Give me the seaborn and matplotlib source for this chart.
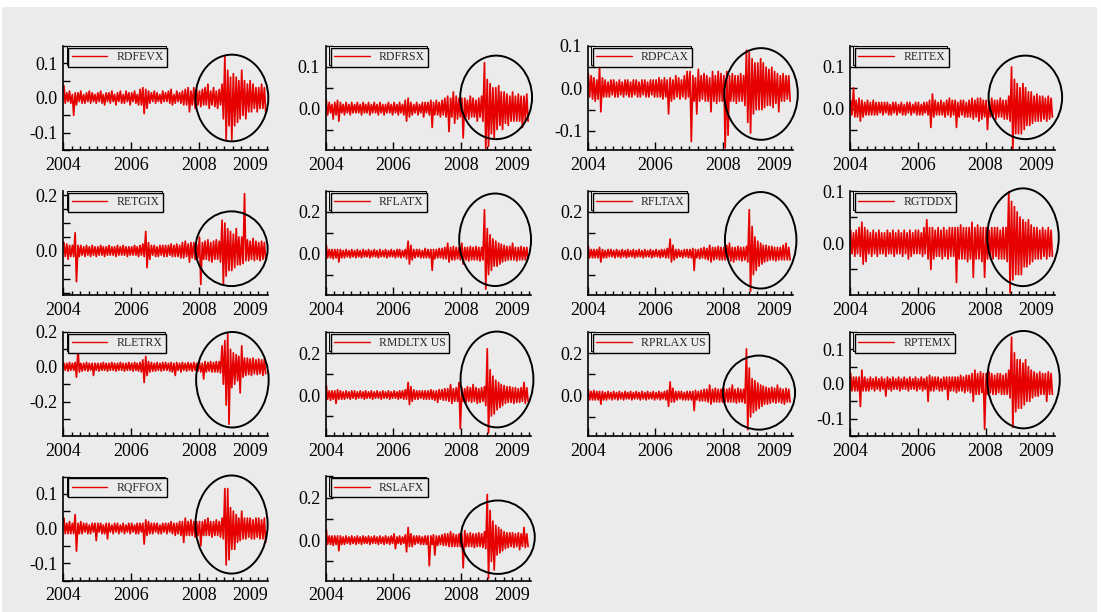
import numpy as np
import pandas as pd
import matplotlib
matplotlib.use("Agg")
import matplotlib.pyplot as plt
from matplotlib.patches import Ellipse, Rectangle
from matplotlib.ticker import MultipleLocator, FixedLocator, FuncFormatter
import seaborn as sns

# ---------------------------------------------------------------------------
# Data: half-monthly observations, Jan 2004 - Dec 2009.
# Each fund series holds alternating half-month high / low returns (percent).
# ---------------------------------------------------------------------------
dates = pd.date_range("2004-01-01", periods=144, freq="SMS")

RDFEVX = [3.5,-1.5, 1.5,-1, 2,-1.5, 1,-5, 1.5,-2, 1.5,-1, 2,-1.5, 1,-1.5, 1.5,-1, 2,-1.5, 1.5,-1, 1,-1.5,
          1.5,-1, 2,-1.5, 1,-2, 1.5,-1, 1.5,-1.5, 2,-1, 1,-2, 1.5,-1, 2,-1.5, 1,-1.5, 2,-1, 1.5,-2,
          1.5,-1, 2,-1.5, 1,-2, 2.5,-2, 3,-4.5, 2.5,-3, 2,-1.5, 1.5,-1, 2,-1.5, 1.5,-1, 1,-1.5, 2,-1,
          1.5,-1, 2,-1.5, 2.5,-2, 1,-1.5, 2,-1, 1.5,-1.5, 2,-2, 2.5,-2, 3,-4, 2,-2, 3,-3, 2.5,-2,
          2,-2.5, 2.5,-2, 3,-2, 4,-3, 2,-2, 3,-2.5, 2,-3, 2.5,-2, 4,-6, 12,-12, 8,-8, 6,-12,
          7,-8, 6,-7, 5,-6, 8,-5, 5,-6, 4,-4, 5,-4, 4,-3, 3,-4, 3,-3, 4,-3, 3,-4]

RDFRSX = [2,-1.5, 1.5,-1, 1,-2.5, 1.5,-1.5, 2,-3, 1.5,-1, 1,-1.5, 1.5,-1, 1,-1.5, 1.5,-1, 1,-1, 1.5,-1,
          1,-1.5, 1.5,-1, 1,-1, 1.5,-1.5, 1,-1, 1.5,-1, 1,-1.5, 1.5,-1, 1,-1.5, 1,-1, 1.5,-1, 1,-1.5,
          1.5,-1, 1,-1.5, 1.5,-1, 1,-1.5, 2,-3, 2.5,-2, 1.5,-1.5, 1,-1, 1.5,-1.5, 1,-1, 1.5,-2, 1.5,-1,
          1.5,-1.5, 2,-4.5, 1.5,-1.5, 2,-1.5, 1.5,-2, 2,-1.5, 2.5,-2, 3,-5.5, 2.5,-2, 4,-3.5, 3,-2.5, 2.5,-2,
          2.5,-7, 2.5,-2, 2,-2.5, 3,-2, 2.5,-2, 2,-3, 2.5,-2, 3,-3, 11,-10, 7,-9, 6,-6, 5,-7,
          5,-5, 5.5,-4, 4,-5, 4,-3.5, 3.5,-4, 3,-3, 4,-3, 3,-3, 3.5,-3, 3,-4.5, 3,-3, 3.5,-3]

RDPCAX = [3.5,-2, 3,-2.5, 2.5,-3, 2,-2.5, 5,-5.5, 2.5,-2, 2,-2, 1.5,-2, 2,-1.5, 2,-2, 1.5,-2, 2,-1.5,
          1.5,-2, 2,-1.5, 2,-2, 1.5,-2, 2,-1.5, 2,-2, 1.5,-2, 2,-1.5, 2,-2, 1.5,-2, 2,-1.5, 2,-2,
          2,-2, 2.5,-2, 2,-2.5, 2.5,-2, 2,-6, 2.5,-3, 2,-2.5, 3,-2, 2.5,-2.5, 2,-2, 3,-2.5, 4,-2,
          4,-12.5, 3,-3, 2.5,-6, 4.5,-3, 3,-2.5, 3.5,-3, 3,-3, 2.5,-5.5, 4,-3, 3,-3.5, 4,-3, 3.5,-3,
          3,-14, 4,-11, 3,-3, 3.5,-3, 3,-3.5, 3,-3, 3.5,-3, 3,-4, 9,-8, 8.5,-10.5, 7,-6, 6,-5,
          6,-5, 7,-5, 6,-4.5, 5,-4, 4.5,-4, 5,-4.5, 4,-3.5, 3.5,-5.5, 3,-3, 3.5,-3, 3,-2.5, 3,-3]

REITEX = [2,-1.5, 5,-2, 2,-2, 2.5,-3, 2,-2, 1.5,-1.5, 2,-1.5, 1.5,-1.5, 2,-1.5, 1.5,-1.5, 1.5,-1, 1.5,-1.5,
          1.5,-1, 1.5,-1.5, 1,-1.5, 1.5,-1, 1.5,-1.5, 1,-1, 1.5,-1.5, 1,-1.5, 1.5,-1, 1.5,-1.5, 1,-1, 1.5,-1.5,
          1.5,-1.5, 1,-1.5, 1.5,-1, 1.5,-1.5, 2,-4.5, 3.5,-2, 2,-1.5, 1.5,-1.5, 2,-1.5, 1.5,-2, 2,-1.5, 2.5,-2,
          2,-1.5, 2,-4.5, 1.5,-2, 2,-1.5, 2,-2, 1.5,-2, 2,-2, 2.5,-2.5, 2,-2, 2.5,-3, 2.5,-2.5, 2,-2,
          2,-5, 2,-2, 2.5,-2, 2,-2.5, 2,-2, 2.5,-2, 2,-2.5, 2,-2.5, 3,-3, 10,-10, 7,-6, 6,-6,
          5,-6, 6,-5, 5,-4, 4,-4, 4,-3.5, 3,-3, 3.5,-3, 3,-3, 3,-2.5, 2.5,-3, 3,-2.5, 2.5,-2]

RETGIX = [3,-2, 2.5,-3, 2,-2, 2,-2, 6.5,-11, 2,-2, 2,-1.5, 1.5,-2, 2,-1.5, 1.5,-2, 2,-1.5, 1.5,-2,
          1.5,-1.5, 2,-1.5, 1.5,-2, 1.5,-1.5, 2,-1.5, 1.5,-1.5, 1.5,-2, 2,-1.5, 1.5,-1.5, 2,-1.5, 1.5,-2, 1.5,-1.5,
          1.5,-1.5, 2,-1.5, 1.5,-2, 2,-1.5, 2.5,-2, 7,-6, 3,-3, 2,-1.5, 2,-2, 1.5,-2, 2,-1.5, 2,-2,
          2,-2, 2,-1.5, 2.5,-2, 2,-2, 2.5,-2, 2,-2.5, 3,-2.5, 3.5,-2, 2.5,-4, 3,-2.5, 3,-3, 2.5,-2.5,
          5,-12, 3,-3, 3.5,-3, 4,-3.5, 3,-4, 3.5,-3, 4,-3, 3.5,-4, 11,-12, 10,-9, 8,-7, 7,-7,
          6,-6, 8,-5, 5,-5, 5,-4.5, 20.5,-3.5, 4,-3.5, 3.5,-3, 4.5,-3.5, 3.5,-3, 3,-3.5, 3.5,-3, 3,-3]

RFLATX = [4,-2, 2,-2, 2,-2.5, 2,-2, 2,-4, 2,-2, 1.5,-2, 2,-1.5, 1.5,-2, 2,-1.5, 1.5,-2, 2,-1.5,
          1.5,-2, 2,-1.5, 1.5,-1.5, 2,-2, 1.5,-1.5, 2,-1.5, 1.5,-2, 2,-1.5, 1.5,-1.5, 2,-2, 1.5,-1.5, 2,-1.5,
          1.5,-2, 2,-1.5, 2,-2, 1.5,-1.5, 2,-2.5, 6,-5, 4,-3, 2,-2, 2,-1.5, 2,-2, 1.5,-2, 2.5,-2,
          2,-2, 2,-8, 2,-2.5, 2,-2, 2.5,-2, 2.5,-2.5, 3,-2.5, 5,-4, 3,-3, 3.5,-3, 3,-2.5, 3,-3,
          5,-5, 3,-3, 3,-3.5, 3.5,-3, 3,-3, 3.5,-3, 3,-3.5, 3,-3, 21,-17, 12,-10, 9,-8, 7,-6,
          6,-6, 5,-5, 4.5,-4, 4,-3.5, 3.5,-3, 3.5,-3, 5,-3, 3,-3.5, 3,-3, 3.5,-3, 3,-3, 3,-2.5]

RFLTAX = [3.5,-2, 2,-2, 2,-2, 2,-2, 3,-4, 2,-2, 1.5,-2, 2,-1.5, 2,-1.5, 1.5,-2, 2,-1.5, 1.5,-2,
          2,-1.5, 1.5,-2, 2,-1.5, 1.5,-1.5, 2,-2, 1.5,-1.5, 2,-1.5, 1.5,-2, 2,-1.5, 1.5,-1.5, 2,-2, 1.5,-1.5,
          2,-1.5, 1.5,-2, 2,-1.5, 2,-2, 2.5,-2, 7,-4, 4,-3, 2,-2, 2,-1.5, 1.5,-2, 2,-1.5, 2,-2,
          2,-2, 2.5,-8, 2,-2, 2,-2.5, 2.5,-2, 3,-2.5, 2.5,-3, 4,-4, 3,-3, 3,-2.5, 3.5,-3, 3,-3,
          3,-3, 4,-3, 5,-3.5, 3,-4, 3,-3, 3.5,-3, 3,-3.5, 3,-3, 3.5,-4, 21,-18, 13,-10, 8,-8,
          6,-6, 5,-5, 4,-4, 4,-3.5, 3.5,-3, 3.5,-3, 3,-3.5, 3,-3, 3,-3, 4,-3, 5,-3, 3,-3]

RGTDDX = [2.5,-2, 2,-2.5, 2.5,-2, 3,-2.5, 4,-4, 3,-3.5, 2.5,-2, 2,-2.5, 2.5,-2, 2,-2.5, 2.5,-2, 2,-2,
          2,-2.5, 2.5,-2, 2,-2, 2.5,-2.5, 2,-2, 2.5,-2, 2,-2.5, 2.5,-2, 2,-3, 2.5,-2.5, 2,-2, 2.5,-2,
          2.5,-2, 2,-2.5, 3,-2, 4.5,-3, 3,-5, 3,-3, 2.5,-2.5, 3,-2.5, 2.5,-3, 3,-2.5, 2.5,-3, 3,-2.5,
          3,-2.5, 3,-7.5, 3,-3, 3.5,-3, 3,-3, 3,-3.5, 3,-3, 4,-6.5, 3,-3, 3.5,-3, 3,-3.5, 3,-6.5,
          3,-3, 2.5,-3, 3,-3, 3,-2.5, 3,-3, 2.5,-3, 3,-3, 3,-3.5, 10,-9.5, 8,-7, 7,-6, 6,-6,
          5,-6, 4.5,-4.5, 4,-4.5, 4.5,-4, 3.5,-3.5, 3,-3, 3,-3, 2.5,-3, 3,-2.5, 2.5,-3, 3,-2.5, 2.5,-2.5]

RLETRX = [2,-2, 2,-2.5, 2.5,-2, 2,-2, 2.5,-6, 10,-3, 2,-2.5, 2,-2, 2.5,-2.5, 2,-2, 2,-5, 2,-2,
          2,-2.5, 2,-2, 2.5,-2, 2,-2.5, 2,-2, 2.5,-2, 2,-2.5, 2,-2, 2.5,-2, 2,-2.5, 2,-2, 2.5,-2,
          2,-2.5, 2.5,-2, 2,-2.5, 2.5,-3, 4,-9, 6,-5, 3,-3, 2.5,-2.5, 2,-2.5, 2.5,-2, 2,-2.5, 2.5,-2,
          2.5,-2, 2,-2.5, 2.5,-3, 2,-5, 2.5,-2, 2,-3, 2.5,-2, 2,-2.5, 2.5,-2, 2,-2.5, 2.5,-2, 2,-2.5,
          2.5,-3, 2,-7, 3,-3, 2.5,-2.5, 3,-3, 2.5,-3, 3,-3, 3,-3.5, 12,-10, 15,-22, 19,-33, 10,-12,
          8,-10, 7,-8, 6,-15, 12,-6, 5,-5, 5,-4.5, 4.5,-5, 5,-4, 4,-4.5, 4.5,-4, 4,-5, 4.5,-4]

RMDLTX = [4.5,-2, 2,-2.5, 2,-2, 2,-4, 2.5,-2, 2,-2, 1.5,-2, 2,-1.5, 1.5,-2, 2,-1.5, 2,-2, 1.5,-1.5,
          2,-1.5, 1.5,-2, 2,-1.5, 1.5,-1.5, 2,-2, 1.5,-1.5, 2,-1.5, 1.5,-2, 2,-1.5, 1.5,-1.5, 2,-2, 1.5,-1.5,
          2,-1.5, 1.5,-2, 2,-1.5, 2,-2, 2.5,-2, 6,-4.5, 4,-3, 2.5,-2, 2,-2, 2,-1.5, 2,-2, 2,-2,
          2,-2, 2.5,-2, 2,-2.5, 2,-3.5, 2.5,-2, 2.5,-2.5, 3,-2.5, 3,-3, 5,-4, 3,-3, 3.5,-3, 6,-16,
          3.5,-3, 3,-3.5, 4,-3, 3.5,-3.5, 5,-3, 3.5,-4, 3,-3.5, 3.5,-3, 4,-5, 22,-18, 12,-10, 9,-9,
          7,-7, 6,-6, 5,-5, 4.5,-4, 4,-3.5, 4,-3.5, 3.5,-4, 3.5,-3.5, 3,-3.5, 3.5,-3, 6,-4, 3.5,-3]

RPRLAX = [3,-2, 2,-2, 2.5,-2, 2,-2, 2,-4, 2,-2, 1.5,-2, 2,-1.5, 1.5,-2, 2,-1.5, 1.5,-2, 2,-1.5,
          1.5,-2, 2,-1.5, 1.5,-1.5, 2,-2, 1.5,-1.5, 2,-1.5, 1.5,-2, 2,-1.5, 1.5,-2, 2,-1.5, 1.5,-1.5, 2,-2,
          1.5,-1.5, 2,-2, 1.5,-1.5, 2,-2, 2.5,-5, 6.5,-3, 3.5,-3, 2,-2, 2,-1.5, 2,-2, 1.5,-2, 2,-2,
          2,-2, 2,-7, 2.5,-2, 2,-2.5, 2.5,-2.5, 3,-2.5, 3,-3, 5,-4, 3,-3, 3.5,-3, 3,-3, 3,-3,
          3.5,-3, 3,-3, 3.5,-3, 5,-3, 3,-3.5, 3.5,-3, 3,-3, 3,-3.5, 22,-16, 13,-10, 8,-8, 7,-7,
          6,-6, 5,-5, 4.5,-4, 4,-4, 3.5,-3.5, 4,-3, 3.5,-3.5, 5,-3, 3.5,-3.5, 3,-4, 3.5,-3, 3,-3]

RPTEMX = [3,-2, 2,-2, 2,-2, 2,-6.5, 4,-2, 2,-2, 1.5,-2, 2,-1.5, 1.5,-2, 2,-1.5, 1.5,-2, 2,-1.5,
          1.5,-3.5, 2,-1.5, 1.5,-2, 2,-1.5, 1.5,-1.5, 2,-2, 1.5,-1.5, 2,-1.5, 1.5,-2, 2,-1.5, 1.5,-1.5, 2,-2,
          1.5,-1.5, 2,-2, 1.5,-1.5, 2,-5, 2.5,-2, 2,-2, 2,-1.5, 2,-2, 1.5,-2, 2,-1.5, 2,-4.5, 2,-2,
          2,-2, 2,-2.5, 2,-2, 2.5,-2, 2,-2.5, 2.5,-2, 2.5,-2.5, 3,-5, 4,-3, 3,-3, 3.5,-2.5, 3,-13,
          3,-3, 3.5,-2.5, 3,-3, 2.5,-3, 3,-2.5, 3,-3, 2.5,-3, 3,-3, 4,-4, 13.5,-12.5, 9,-8, 7,-7,
          7,-7, 6,-6, 7,-5, 5,-5, 4,-4, 3.5,-3.5, 3,-3.5, 3.5,-3, 3,-3, 3,-5, 3.5,-3, 3,-3]

RQFFOX = [3,-1.5, 1.5,-1.5, 2,-1.5, 1.5,-1.5, 4,-6.5, 1.5,-1.5, 2,-1.5, 1.5,-1, 1.5,-1.5, 1,-1.5, 1.5,-1, 1.5,-3.5,
          1.5,-1, 1.5,-1.5, 1,-1.5, 1.5,-3, 1.5,-1, 1,-1.5, 1.5,-1, 1.5,-1.5, 1,-1, 1.5,-1.5, 1,-1, 1.5,-1.5,
          1.5,-1, 1,-1.5, 1.5,-1.5, 1.5,-1, 1.5,-4.5, 2.5,-2, 2,-1.5, 1.5,-1.5, 1.5,-1, 1.5,-1.5, 1,-1.5, 1.5,-1,
          1.5,-1.5, 1.5,-1, 2,-1.5, 1.5,-2, 1.5,-1.5, 2,-2, 2,-4, 3,-2, 2,-2, 2.5,-2, 2,-2.5, 2,-2,
          2,-5, 2,-2, 2.5,-2, 3,-2, 2,-2.5, 2,-2, 2.5,-2, 2,-2.5, 3,-3, 11.5,-10.5, 11.5,-9, 6,-6,
          5,-6, 4,-4, 3,-3.5, 5,-3, 3,-3, 3,-2.5, 3,-3, 2.5,-3, 3,-2.5, 3,-3, 2.5,-3, 3,-4]

RSLAFX = [5,-2, 2,-2, 2,-2.5, 2,-2, 2,-5, 2,-2, 1.5,-2, 2,-1.5, 1.5,-2, 2,-1.5, 1.5,-2, 2,-1.5,
          1.5,-2, 2,-1.5, 1.5,-1.5, 2,-2, 1.5,-1.5, 2,-1.5, 1.5,-2, 2,-1.5, 1.5,-2, 2,-1.5, 1.5,-2, 2,-1.5,
          3,-4, 1.5,-1.5, 2,-2, 1.5,-1.5, 2.5,-5.5, 6,-3, 3,-3, 2,-2, 2,-1.5, 2,-2, 1.5,-2, 2,-2,
          2,-12, 2,-2, 2.5,-7, 2,-2.5, 2,-2, 2.5,-2.5, 3,-2.5, 3,-3, 4,-3, 3,-3, 2.5,-3, 3,-3,
          3,-13, 4.5,-3, 3,-3, 3.5,-3, 3,-3.5, 3,-3, 3.5,-3, 3,-3.5, 4,-4, 21.5,-18, 14,-10, 9,-14,
          7,-7, 6,-6, 5,-5, 4,-4, 3.5,-3.5, 3.5,-3, 3.5,-3.5, 3,-3, 3.5,-4.5, 3,-3, 6,-3.5, 3,-3]

fund_names = ["RDFEVX", "RDFRSX", "RDPCAX", "REITEX",
              "RETGIX", "RFLATX", "RFLTAX", "RGTDDX",
              "RLETRX", "RMDLTX US", "RPRLAX US", "RPTEMX",
              "RQFFOX", "RSLAFX"]
fund_series = [RDFEVX, RDFRSX, RDPCAX, REITEX,
               RETGIX, RFLATX, RFLTAX, RGTDDX,
               RLETRX, RMDLTX, RPRLAX, RPTEMX,
               RQFFOX, RSLAFX]

# value range shown on each panel
y_low = [-0.15, -0.099, -0.145, -0.099, -0.158, -0.198, -0.198, -0.099,
         -0.398, -0.195, -0.19, -0.15, -0.15, -0.19]
y_high = [0.15, 0.15, 0.1, 0.15, 0.215, 0.3, 0.3, 0.1,
          0.2, 0.3, 0.3, 0.15, 0.15, 0.3]
tick_step = [0.05, 0.05, 0.05, 0.05, 0.05, 0.1, 0.1, 0.05,
             0.1, 0.1, 0.1, 0.05, 0.05, 0.1]
label_step = [0.1, 0.1, 0.1, 0.1, 0.2, 0.2, 0.2, 0.1,
              0.2, 0.2, 0.2, 0.1, 0.1, 0.2]

# turbulent period circled on each panel: (start year, end year, low, high)
crisis_window = [
    (2007.90, 2010.05, -0.125, 0.125),
    (2007.97, 2010.09, -0.073, 0.127),
    (2008.03, 2010.20, -0.121, 0.095),
    (2008.09, 2010.26, -0.073, 0.127),
    (2007.90, 2010.03, -0.126, 0.142),
    (2007.94, 2010.06, -0.155, 0.288),
    (2008.05, 2010.16, -0.167, 0.295),
    (2008.05, 2010.16, -0.082, 0.105),
    (2007.92, 2010.06, -0.349, 0.200),
    (2007.98, 2010.13, -0.154, 0.302),
    (2007.99, 2010.12, -0.160, 0.189),
    (2008.05, 2010.19, -0.128, 0.153),
    (2007.90, 2010.03, -0.130, 0.153),
    (2007.99, 2010.17, -0.159, 0.187),
]

# ---------------------------------------------------------------------------
# Style
# ---------------------------------------------------------------------------
sns.set_style("ticks")
plt.rcParams["font.family"] = ["Liberation Serif", "DejaVu Serif"]
plt.rcParams["axes.unicode_minus"] = False

BG = "#ebebeb"
RED = "#e60000"

fig = plt.figure(figsize=(11.01, 6.12), dpi=100, facecolor="white")
W, H = 1101.0, 612.0
fig.patches.append(Rectangle((2 / W, 0), 1095 / W, (H - 7) / H,
                             transform=fig.transFigure, facecolor=BG,
                             edgecolor="none", zorder=-10))

mid = dates + pd.Timedelta(days=7)
t = np.asarray(mid.year + (mid.dayofyear - 1) / np.where(mid.is_leap_year, 366, 365))

col_left = [63.3, 325.7, 587.7, 850.0]
row_top = [46.0, 191.0, 332.0, 476.5]
pw, ph = 205.0, 104.0


def make_label_fmt(step):
    def fmt(v, pos):
        q = v / step
        if abs(q - round(q)) < 1e-6:
            return f"{round(v, 2) + 0.0:.1f}"
        return ""
    return fmt


def year_minor_fmt(v, pos):
    return "2009" if abs(v - 2009.5) < 1e-6 else ""


for i, (name, vals) in enumerate(zip(fund_names, fund_series)):
    r, c = divmod(i, 4)
    ax = fig.add_axes([col_left[c] / W, 1 - (row_top[r] + ph) / H, pw / W, ph / H])
    ax.set_facecolor("none")

    sns.lineplot(x=t, y=np.asarray(vals) / 100.0, ax=ax, color=RED,
                 linewidth=1.25, label=name)

    ax.set_xlim(2004.0, 2010.05)
    ax.set_ylim(y_low[i], y_high[i])

    ax.xaxis.set_major_locator(FixedLocator([2004, 2006, 2008]))
    ax.xaxis.set_major_formatter(FuncFormatter(lambda v, p: f"{int(round(v))}"))
    ax.xaxis.set_minor_locator(MultipleLocator(0.25))
    ax.xaxis.set_minor_formatter(FuncFormatter(year_minor_fmt))

    ax.yaxis.set_major_locator(MultipleLocator(tick_step[i]))
    ax.yaxis.set_major_formatter(FuncFormatter(make_label_fmt(label_step[i])))

    ax.tick_params(axis="y", which="major", direction="in", length=5, width=1,
                   labelsize=13, pad=4, colors="black")
    ax.tick_params(axis="x", which="major", direction="in", length=6, width=1,
                   labelsize=13, pad=5, colors="black")
    ax.tick_params(axis="x", which="minor", direction="in", length=3, width=1,
                   labelsize=13, pad=5, colors="black")

    for side in ("top", "right"):
        ax.spines[side].set_visible(False)
    for side in ("left", "bottom"):
        ax.spines[side].set_linewidth(1.2)
        ax.spines[side].set_color("black")
    ax.set_xlabel("")
    ax.set_ylabel("")
    ax.grid(False)

    leg = ax.legend(loc="upper left", bbox_to_anchor=(0.015, 1.0),
                    borderaxespad=0.15, frameon=True, fancybox=False,
                    framealpha=1, facecolor=BG, edgecolor="black",
                    prop={"family": "Liberation Serif", "size": 8.5},
                    handlelength=3.0, handletextpad=0.8, borderpad=0.3,
                    shadow={"ox": -1.0, "oy": 1.0, "facecolor": BG,
                            "edgecolor": "black", "alpha": 1, "linewidth": 0.7})
    leg.get_frame().set_linewidth(1.0)
    for h in leg.get_lines():
        h.set_linewidth(1.0)

    x0, x1, y0, y1 = crisis_window[i]
    ax.add_patch(Ellipse(((x0 + x1) / 2, (y0 + y1) / 2), x1 - x0, y1 - y0,
                         fill=False, edgecolor="black", linewidth=1.4,
                         clip_on=False, zorder=5))

fig.savefig("out.png", dpi=100, facecolor=fig.get_facecolor())
